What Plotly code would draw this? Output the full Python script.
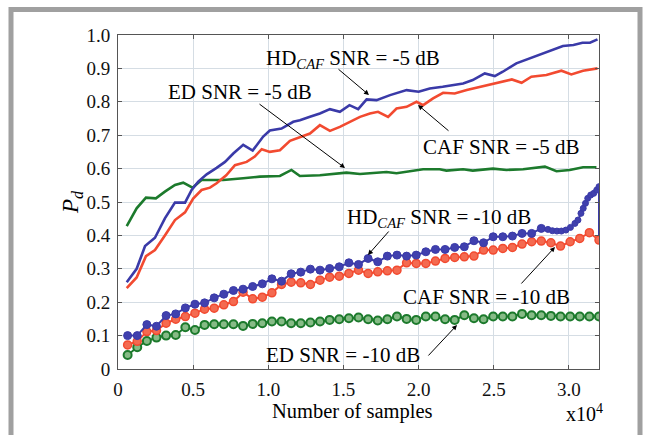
import plotly.graph_objects as go

# ---- data (x in units of 1e4 samples) ----
hd5_x = [0.058, 0.124, 0.18, 0.246, 0.312, 0.379, 0.446, 0.49, 0.534, 0.59, 0.656, 0.712, 0.767, 0.833,
         0.896, 0.966, 1.01, 1.088, 1.166, 1.21, 1.277, 1.343, 1.41, 1.476, 1.54, 1.598, 1.654, 1.72, 1.81,
         1.92, 2.0, 2.074, 2.16, 2.296, 2.36, 2.44, 2.507, 2.56, 2.65, 2.74, 2.83, 2.895, 2.96, 3.03, 3.09,
         3.14, 3.19]
hd5_y = [0.26, 0.30, 0.368, 0.393, 0.451, 0.498, 0.498, 0.536, 0.561, 0.583, 0.602, 0.62, 0.645, 0.671,
         0.654, 0.696, 0.714, 0.72, 0.74, 0.745, 0.755, 0.765, 0.778, 0.77, 0.79, 0.778, 0.807, 0.805, 0.82,
         0.835, 0.83, 0.84, 0.845, 0.855, 0.865, 0.885, 0.877, 0.89, 0.915, 0.93, 0.945, 0.955, 0.967, 0.97,
         0.977, 0.977, 0.987]

caf5_x = [0.058, 0.124, 0.186, 0.246, 0.312, 0.379, 0.446, 0.50, 0.556, 0.612, 0.656, 0.72, 0.778, 0.856,
          0.91, 0.956, 1.01, 1.077, 1.144, 1.21, 1.277, 1.343, 1.41, 1.476, 1.54, 1.61, 1.676, 1.73, 1.797,
          1.853, 1.92, 1.986, 2.03, 2.096, 2.163, 2.24, 2.32, 2.41, 2.52, 2.62, 2.685, 2.75, 2.85, 2.95,
          3.016, 3.094, 3.19]
caf5_y = [0.242, 0.274, 0.338, 0.356, 0.40, 0.446, 0.469, 0.51, 0.536, 0.543, 0.556, 0.58, 0.61, 0.62,
          0.636, 0.658, 0.65, 0.655, 0.683, 0.693, 0.705, 0.73, 0.713, 0.725, 0.74, 0.755, 0.765, 0.77, 0.755,
          0.78, 0.785, 0.80, 0.79, 0.81, 0.827, 0.825, 0.835, 0.845, 0.855, 0.867, 0.857, 0.875, 0.88, 0.893,
          0.882, 0.893, 0.90]

ed5_x = [0.058, 0.124, 0.186, 0.252, 0.312, 0.379, 0.434, 0.496, 0.556, 0.70, 0.833, 0.944, 1.077, 1.154,
         1.21, 1.343, 1.52, 1.61, 1.786, 1.853, 2.03, 2.14, 2.185, 2.296, 2.36, 2.495, 2.585, 2.695, 2.84,
         2.917, 3.005, 3.094, 3.183]
ed5_y = [0.428, 0.481, 0.513, 0.511, 0.531, 0.551, 0.558, 0.543, 0.566, 0.566, 0.571, 0.576, 0.578, 0.596,
         0.578, 0.58, 0.588, 0.584, 0.59, 0.586, 0.598, 0.598, 0.594, 0.598, 0.594, 0.60, 0.596, 0.598, 0.606,
         0.592, 0.596, 0.604, 0.604]

# -10 dB curves: 50 points at 640-sample spacing
grid_x = [0.064 * k for k in range(1, 51)]

ed10_y = [0.042, 0.065, 0.084, 0.094, 0.100, 0.102, 0.125, 0.117, 0.132, 0.134, 0.134, 0.134, 0.129, 0.135,
          0.137, 0.142, 0.142, 0.137, 0.137, 0.139, 0.142, 0.147, 0.149, 0.152, 0.154, 0.149, 0.145, 0.149,
          0.157, 0.150, 0.147, 0.157, 0.157, 0.149, 0.147, 0.161, 0.152, 0.149, 0.157, 0.157, 0.157, 0.165,
          0.161, 0.161, 0.159, 0.157, 0.157, 0.157, 0.157, 0.157]

caf10_y = [0.072, 0.083, 0.112, 0.115, 0.137, 0.149, 0.157, 0.167, 0.179, 0.182, 0.192, 0.202, 0.230, 0.210,
           0.215, 0.228, 0.253, 0.260, 0.258, 0.253, 0.266, 0.275, 0.278, 0.286, 0.296, 0.286, 0.291, 0.294,
           0.296, 0.318, 0.316, 0.316, 0.323, 0.331, 0.334, 0.336, 0.338, 0.356, 0.356, 0.361, 0.364, 0.374,
           0.381, 0.383, 0.378, 0.368, 0.381, 0.391, 0.408, 0.386]

hd10_x = [0.064 * k for k in range(1, 45)] + [2.86, 2.89, 2.92, 2.95, 2.98, 3.01, 3.04, 3.06, 3.08,
                                               3.095, 3.11, 3.125, 3.145, 3.165, 3.185, 3.2, 3.2]
hd10_y = [0.100, 0.100, 0.133, 0.128, 0.160, 0.165, 0.183, 0.194, 0.198, 0.213, 0.224, 0.235, 0.239, 0.247,
          0.255, 0.270, 0.263, 0.285, 0.290, 0.299, 0.296, 0.301, 0.306, 0.318, 0.313, 0.331, 0.321, 0.338,
          0.341, 0.338, 0.341, 0.351, 0.358, 0.358, 0.364, 0.366, 0.384, 0.378, 0.396, 0.396, 0.398, 0.406,
          0.406, 0.421, 0.418, 0.414, 0.413, 0.413, 0.416, 0.424, 0.436, 0.446, 0.466, 0.481, 0.496, 0.511,
          0.521, 0.526, 0.536, 0.546, 0.40]

x_ticks = [0, 0.5, 1.0, 1.5, 2.0, 2.5, 3.0]
x_tick_text = ["0", "0.5", "1.0", "1.5", "2.0", "2.5", "3.0"]
y_ticks = [0, 0.1, 0.2, 0.3, 0.4, 0.5, 0.6, 0.7, 0.8, 0.9, 1.0]
y_tick_text = ["0", "0.1", "0.2", "0.3", "0.4", "0.5", "0.6", "0.7", "0.8", "0.9", "1.0"]

BLUE = "#3a3aa8"
RED = "#f24a30"
GREEN = "#1c7a2c"
FONT = "'Liberation Serif', 'Times New Roman', 'DejaVu Serif', serif"

fig = go.Figure()

fig.add_trace(go.Scatter(x=ed5_x, y=ed5_y, mode="lines", line=dict(color=GREEN, width=2.6)))
fig.add_trace(go.Scatter(x=caf5_x, y=caf5_y, mode="lines", line=dict(color=RED, width=2.6)))
fig.add_trace(go.Scatter(x=hd5_x, y=hd5_y, mode="lines", line=dict(color=BLUE, width=2.6)))

fig.add_trace(go.Scatter(x=grid_x, y=ed10_y, mode="lines+markers",
                         line=dict(color=GREEN, width=2),
                         marker=dict(symbol="circle", size=8, color="#86bb86", opacity=1,
                                     line=dict(color=GREEN, width=2))))
fig.add_trace(go.Scatter(x=grid_x, y=caf10_y, mode="lines+markers",
                         line=dict(color=RED, width=2),
                         marker=dict(symbol="circle", size=8, color="#f46a50", opacity=1,
                                     line=dict(color=RED, width=1.5))))
hd_sizes = [8] * 44 + [6] * 16 + [0]
fig.add_trace(go.Scatter(x=hd10_x, y=hd10_y, mode="lines+markers",
                         line=dict(color=BLUE, width=2),
                         marker=dict(symbol="circle", size=hd_sizes, color="#4040ae", opacity=1,
                                     line=dict(color=BLUE, width=1))))

def px2x(px):
    return (px - 118) / 481 * 3.2

def py2y(py):
    return (369 - py) / 334

# text labels (pixel centres)
labels = [
    ("HD<sub><i>CAF</i></sub> SNR = -5 dB", 353, 59),
    ("ED SNR = -5 dB", 240, 92),
    ("CAF SNR = -5 dB", 501, 147),
    ("HD<sub><i>CAF</i></sub> SNR = -10 dB", 439, 218),
    ("CAF SNR = -10 dB", 486, 297),
    ("ED SNR = -10 dB", 343, 355),
]
annotations = []
for txt, px, py in labels:
    annotations.append(dict(text=txt, x=px2x(px), y=py2y(py), xref="x", yref="y",
                            showarrow=False, xanchor="center", yanchor="middle",
                            font=dict(family=FONT, size=21, color="black")))

arrows = [
    ((337, 68), (369, 95)),
    ((258, 103), (345, 168)),
    ((450, 132), (418, 105)),
    ((390, 230), (368, 255)),
    ((520, 285), (555, 247)),
    ((427, 357), (457, 325)),
]
for (tx, ty), (hx, hy) in arrows:
    annotations.append(dict(text="", x=px2x(hx), y=py2y(hy), ax=px2x(tx), ay=py2y(ty),
                            xref="x", yref="y", axref="x", ayref="y",
                            showarrow=True, arrowhead=2, arrowsize=1, arrowwidth=1,
                            arrowcolor="black", standoff=0))

annotations.append(dict(text="<i>P<sub>d</sub></i>", x=(72 - 118) / 481, y=(369 - 202) / 334,
                        xref="paper", yref="paper", showarrow=False, textangle=-90,
                        xanchor="center", yanchor="middle",
                        font=dict(family=FONT, size=23, color="black")))
annotations.append(dict(text="Number of samples", x=(352 - 118) / 481, y=(369 - 411) / 334,
                        xref="paper", yref="paper", showarrow=False,
                        xanchor="center", yanchor="middle",
                        font=dict(family=FONT, size=20.5, color="black")))
annotations.append(dict(text="x10<sup>4</sup>", x=(584 - 118) / 481, y=(369 - 413) / 334,
                        xref="paper", yref="paper", showarrow=False,
                        xanchor="center", yanchor="middle",
                        font=dict(family=FONT, size=20, color="black")))

frame = dict(type="rect", xref="paper", yref="paper",
             x0=(11 - 118) / 481, x1=(640 - 118) / 481,
             y0=(369 - 460) / 334, y1=(369 - 9.5) / 334,
             line=dict(color="#a0a0a0", width=5), fillcolor="rgba(0,0,0,0)", layer="below")

axis_common = dict(showgrid=True, gridcolor="#d5dde4", gridwidth=1, zeroline=False,
                   showline=True, linecolor="#555555", linewidth=1, mirror="ticks",
                   ticks="inside", ticklen=4, tickcolor="#555555",
                   tickfont=dict(family=FONT, size=19, color="#111111"))

fig.update_layout(
    width=648, height=435,
    margin=dict(l=118, r=49, t=35, b=66),
    paper_bgcolor="white", plot_bgcolor="white",
    showlegend=False,
    font=dict(family=FONT),
    annotations=annotations,
    shapes=[frame],
    xaxis=dict(range=[0, 3.2], tickvals=x_ticks, ticktext=x_tick_text,
               ticklabelstandoff=3, **axis_common),
    yaxis=dict(range=[0, 1.0], tickvals=y_ticks, ticktext=y_tick_text,
               ticklabelstandoff=3, **axis_common),
)

fig.write_html("out.html")
